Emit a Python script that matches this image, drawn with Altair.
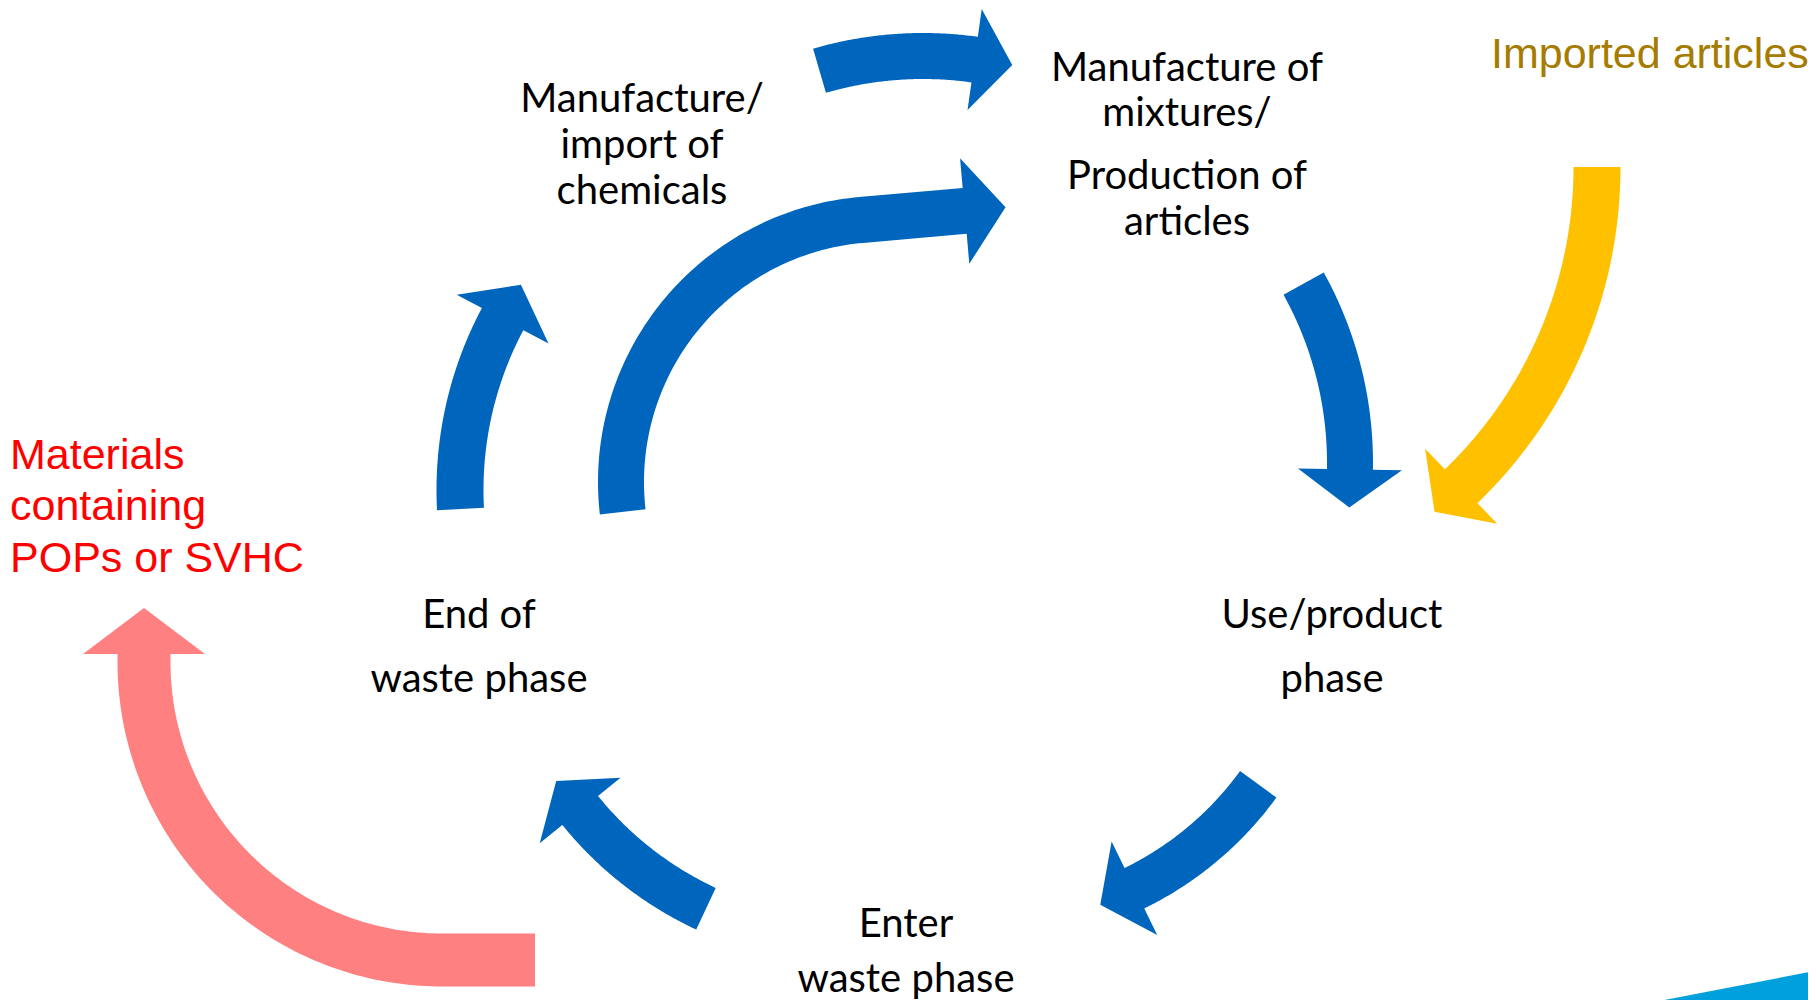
import math
import altair as alt
import pandas as pd

# ---------------- arrow geometry (reference pixel space, y down) ----------------
arrow_id = ["mfg_to_mix", "eow_to_prod", "eow_to_mfg", "prod_to_use",
            "use_to_waste", "waste_to_eow", "imported", "pops_svhc"]
arc_cx = [923, 884, 824, 980, 988, 856, 1154, 442]
arc_cy = [427, 482, 490, 463, 588, 587, 167, 662]
arc_r = [371, 263, 364, 370, 334, 355, 443, 298]
theta_start = [253.8, 173.5, 177.0, 331.0, 36.0, 115.0, 0.0, 90.0]
theta_end = [278.0, 265.0, 208.0, 361.0, 64.0, 141.0, 46.1, 180.0]
lead_in = [0, 0, 0, 0, 0, 0, 0, 93]
lead_out = [0, 104, 0, 0, 0, 0, 0, 8]
body_width = [46, 46, 47, 46, 45, 46, 47, 53]
head_half = [51, 53, 52, 52, 52, 52, 52, 61]
head_len = [38, 41, 39, 38, 38, 38, 37, 46]
arrow_color = ["#0066BD", "#0066BD", "#0066BD", "#0066BD", "#0066BD", "#0066BD",
               "#FFC000", "#FF8080"]

# decorative corner wedge (bottom right)
wedge_x = [1623, 1830, 1830]
wedge_y = [1008, 968, 1020]
wedge_color = "#00A0DC"

# ---------------- labels ----------------
black_labels = ["Manufacture/", "import of", "chemicals",
                "Manufacture of", "mixtures/", "Production of", "articles",
                "End of", "waste phase",
                "Use/product", "phase",
                "Enter", "waste phase"]
black_x = [642, 642, 642, 1187, 1187, 1187, 1187, 479, 479, 1332, 1332, 906, 906]
black_y = [112, 158, 204, 81, 126, 189, 235, 628, 692, 628, 692, 937, 992]

color_labels = ["Imported articles", "Materials", "containing", "POPs or SVHC"]
color_x = [1491, 10, 10, 10]
color_y = [68, 469, 520, 572]
color_fill = ["#A67C00", "#FF0000", "#FF0000", "#FF0000"]

OFFSET = 8  # page margin


def arrow_ring(cx, cy, r, t0, t1, pre, post, w, hw, hl, n=90):
    sgn = 1.0 if t1 >= t0 else -1.0
    a0, a1 = math.radians(t0), math.radians(t1)

    def pt(a, rr):
        return (cx + rr * math.cos(a), cy + rr * math.sin(a))

    def tan(a):
        return (sgn * -math.sin(a), sgn * math.cos(a))

    side1, side2 = [], []
    if pre > 0:
        tx, ty = tan(a0)
        for rr, side in ((r + w / 2, side1), (r - w / 2, side2)):
            px, py = pt(a0, rr)
            side.append((px - pre * tx, py - pre * ty))
    for i in range(n + 1):
        a = a0 + (a1 - a0) * i / n
        side1.append(pt(a, r + w / 2))
        side2.append(pt(a, r - w / 2))
    tx, ty = tan(a1)
    if post > 0:
        for rr, side in ((r + w / 2, side1), (r - w / 2, side2)):
            px, py = pt(a1, rr)
            side.append((px + post * tx, py + post * ty))
    bx, by = pt(a1, r)
    bx, by = bx + post * tx, by + post * ty
    nx, ny = math.cos(a1), math.sin(a1)
    head = [(bx + hw * nx, by + hw * ny), (bx + hl * tx, by + hl * ty),
            (bx - hw * nx, by - hw * ny)]
    ring = side1 + head + side2[::-1]
    ring.append(ring[0])
    return [[round(x, 2), round(y, 2)] for x, y in ring]


features = []
for i in range(len(arrow_id)):
    ring = arrow_ring(arc_cx[i], arc_cy[i], arc_r[i], theta_start[i], theta_end[i],
                      lead_in[i], lead_out[i], body_width[i], head_half[i], head_len[i])
    features.append({"type": "Feature",
                     "geometry": {"type": "Polygon", "coordinates": [ring]},
                     "properties": {"name": arrow_id[i], "color": arrow_color[i]}})
wring = [[x, y] for x, y in zip(wedge_x, wedge_y)] + [[wedge_x[0], wedge_y[0]]]
features.append({"type": "Feature",
                 "geometry": {"type": "Polygon", "coordinates": [wring]},
                 "properties": {"name": "wedge", "color": wedge_color}})

proj = dict(type="identity", scale=1, translate=[-OFFSET, -OFFSET])

shapes = alt.Chart(alt.Data(values=features)).mark_geoshape(strokeWidth=0).encode(
    color=alt.Color("properties.color:N", scale=None)
).project(**proj)

black_df = pd.DataFrame({"label": black_labels, "x": black_x, "y": black_y})
black_text = alt.Chart(black_df).mark_text(
    font="Lato", fontSize=40, align="center", baseline="alphabetic", color="#000000"
).encode(longitude="x:Q", latitude="y:Q", text="label:N").project(**proj)

color_df = pd.DataFrame({"label": color_labels, "x": color_x, "y": color_y, "c": color_fill})
color_text = alt.Chart(color_df).mark_text(
    font="Liberation Sans", fontSize=43, align="left", baseline="alphabetic"
).encode(longitude="x:Q", latitude="y:Q", text="label:N",
         color=alt.Color("c:N", scale=None)).project(**proj)

chart = alt.layer(shapes, black_text, color_text).properties(
    width=1800, height=992, padding=0,
    autosize=alt.AutoSizeParams(type="none"),
    background="#FFFFFF",
).configure_view(stroke=None)

chart.save("out.html", embed_options={"renderer": "svg", "actions": False})
